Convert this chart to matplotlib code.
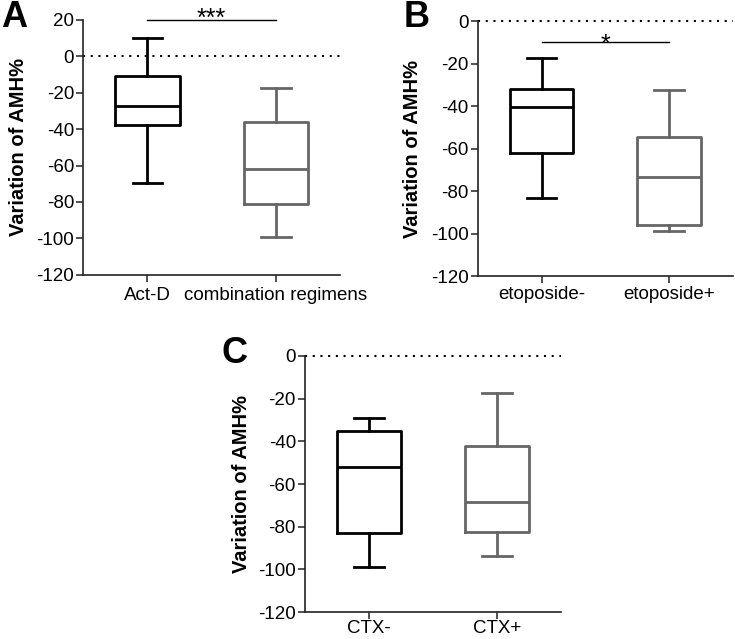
import matplotlib
matplotlib.use("Agg")
import matplotlib.pyplot as plt

plt.rcParams['font.family'] = ['Liberation Sans', 'DejaVu Sans']
plt.rcParams['axes.unicode_minus'] = False

# box statistics: (whislo, q1, med, q3, whishi)
a_labels = ['Act-D', 'combination regimens']
a_stats = [(-69.5, -38, -27.5, -11, 10), (-99, -81, -62, -36, -17.5)]

b_labels = ['etoposide-', 'etoposide+']
b_stats = [(-83.5, -62, -40.5, -32, -17.5), (-99, -96, -73.5, -54.5, -32.5)]

c_labels = ['CTX-', 'CTX+']
c_stats = [(-99, -83, -52, -35, -29), (-93.5, -82.5, -68.5, -42, -17.5)]

a_yticks = [20, 0, -20, -40, -60, -80, -100, -120]
bc_yticks = [0, -20, -40, -60, -80, -100, -120]

colors = ['black', '#666666']

fig = plt.figure(figsize=(7.35, 6.39), dpi=100)
axA = fig.add_axes([0.113, 0.570, 0.350, 0.399])
axB = fig.add_axes([0.650, 0.568, 0.347, 0.399])
axC = fig.add_axes([0.415, 0.042, 0.348, 0.401])


def draw_panel(ax, labels, stats, yticks, letter, lx, ly, xpad, labx):
    for i, (st, col) in enumerate(zip(stats, colors)):
        d = dict(whislo=st[0], q1=st[1], med=st[2], q3=st[3], whishi=st[4], fliers=[])
        props = dict(color=col, linewidth=2.0)
        ax.bxp([d], positions=[i + 1], widths=0.5, capwidths=0.23,
               showfliers=False, boxprops=props, whiskerprops=props,
               capprops=props, medianprops=props, manage_ticks=False)
    ax.set_xlim(0.5, 2.5)
    ax.set_ylim(min(yticks), max(yticks))
    ax.set_yticks(yticks)
    ax.set_xticks([1, 2])
    ax.set_xticklabels(labels)
    ax.axhline(0, color='black', linewidth=1.5, linestyle=(0, (1, 2.7)), clip_on=False)
    for s in ['top', 'right']:
        ax.spines[s].set_visible(False)
    for s in ['left', 'bottom']:
        ax.spines[s].set_linewidth(1.2)
        ax.spines[s].set_color('#222222')
    ax.tick_params(axis='both', labelsize=13.5, length=5, width=1.1, color='#222222')
    ax.tick_params(axis='y', pad=1.5)
    ax.tick_params(axis='x', pad=xpad)
    ax.set_ylabel('Variation of AMH%', fontsize=14.5, fontweight='bold')
    ax.yaxis.set_label_coords(labx, 0.5)
    fig.text(lx, ly, letter, fontsize=26, fontweight='bold', va='baseline', ha='left')


draw_panel(axA, a_labels, a_stats, a_yticks, 'A', 0.002, 0.958, 4, -0.214)
draw_panel(axB, b_labels, b_stats, bc_yticks, 'B', 0.549, 0.958, 2, -0.218)
draw_panel(axC, c_labels, c_stats, bc_yticks, 'C', 0.302, 0.432, 0.5, -0.21)

# significance bars
axA.plot([1, 2], [20, 20], color='black', linewidth=1.0, clip_on=False)
axA.text(1.5, 16.7, '***', ha='center', va='baseline', fontsize=18, clip_on=False)
axB.plot([1, 2], [-10, -10], color='black', linewidth=1.0)
axB.text(1.5, -14.5, '*', ha='center', va='baseline', fontsize=18)

fig.savefig('out.png', dpi=100)
